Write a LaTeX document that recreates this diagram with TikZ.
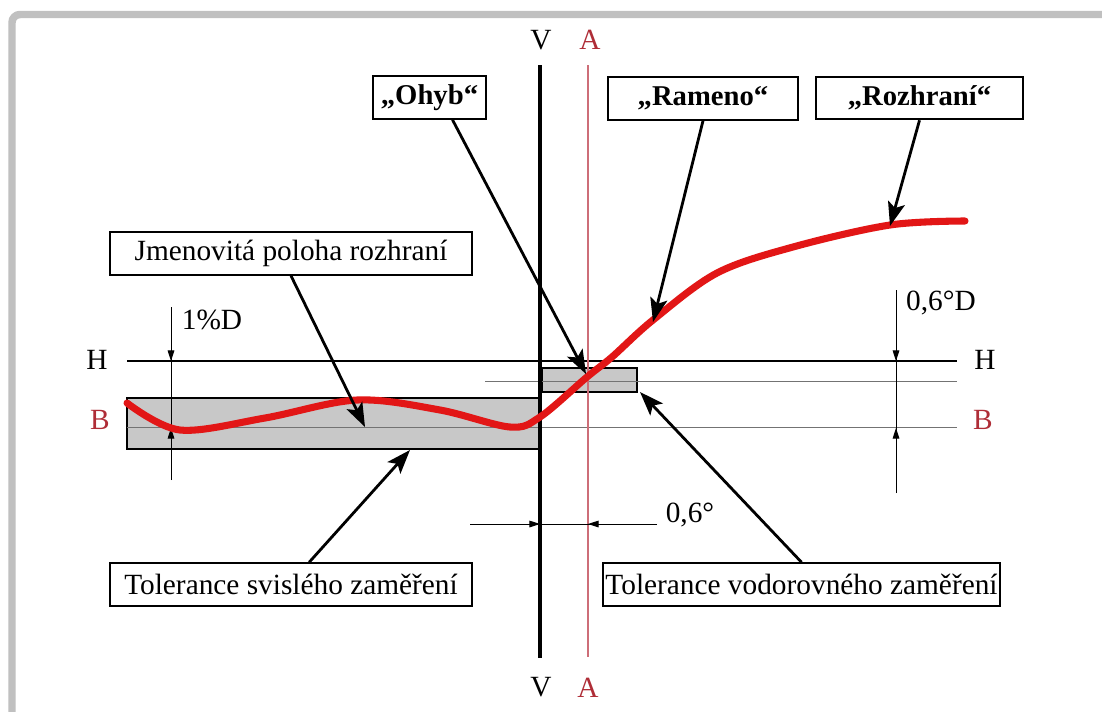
\documentclass[tikz,border=0pt]{standalone}
\usepackage{fontspec}
\setmainfont{Liberation Serif}
\usetikzlibrary{arrows.meta,calc}
\definecolor{curvered}{RGB}{226,22,22}
\definecolor{labred}{RGB}{175,45,55}
\definecolor{thinred}{RGB}{205,110,120}
\definecolor{framegray}{RGB}{192,192,192}
\definecolor{tolgray}{RGB}{200,200,200}
\begin{document}
\begin{tikzpicture}[x=0.75pt,y=-0.75pt,
  lbl/.style={font=\fontsize{22}{25}\selectfont, inner sep=0pt},
  redlbl/.style={lbl, text=labred},
  box/.style={draw, line width=1.4pt, inner sep=0pt, minimum height=32pt, font=\fontsize{22}{25}\selectfont},
  boldbox/.style={box, font=\fontsize{21.5}{24}\selectfont\bfseries},
  callout/.style={line width=2.1pt, -{Stealth[length=18pt,width=13pt,inset=4pt]}},
  dimline/.style={line width=0.7pt},
  dimarrow/.style={line width=0.7pt, -{Triangle[length=8pt,width=5pt]}},
  thinline/.style={line width=0.6pt, draw=black!55},
  tolrect/.style={draw, line width=1.2pt, fill=tolgray}]
\useasboundingbox (0,0) rectangle (1102,711);
\clip (0,0) rectangle (1102,711);
\fill[white] (0,0) rectangle (1102,711);
% frame
\draw[framegray, line width=5.6pt, rounded corners=6pt] (12,730) -- (12,14.5) -- (1120,14.5);

% tolerance rectangles
\path[tolrect] (127,398) rectangle (540,449);
\path[tolrect] (542,368) rectangle (637,392);

% thin horizontal lines
\draw[thinline] (127,427) -- (957,427);
\draw[thinline] (485,381) -- (957,381);

% H line
\draw[line width=1.9pt] (127,361) -- (957,361);

% A line (thin red)
\draw[thinred, line width=0.8pt] (588,65) -- (588,657);
% V line
\draw[line width=2.3pt] (540,65) -- (540,658);

% labels V, A, H, B
\node[lbl] (vtop) at (541,40) {V};
\node[redlbl] (atop) at (590,40) {A};
\node[lbl] (vbot) at (541,687) {V};
\node[redlbl] (abot) at (588,688) {A};
\node[lbl] (hleft) at (97,360) {H};
\node[lbl] (hright) at (985,360) {H};
\node[redlbl] (bleft) at (100,420) {B};
\node[redlbl] (bright) at (983,420) {B};

% dimension 1%D
\coordinate (d1top) at (171,307);
\coordinate (d1h) at (171,361);
\coordinate (d1b) at (171,428);
\coordinate (d1bot) at (171,480);
\draw[dimline] (d1top) -- (d1bot);
\draw[dimarrow] (d1top) -- (d1h);
\draw[dimarrow] (d1bot) -- (d1b);
\node[lbl] (onepd) at (212,320) {1\%D};

% dimension 0,6°D
\coordinate (d2top) at (896,290);
\coordinate (d2h) at (896,361);
\coordinate (d2b) at (896,428);
\coordinate (d2bot) at (896,493);
\draw[dimline] (d2top) -- (d2bot);
\draw[dimarrow] (d2top) -- (d2h);
\draw[dimarrow] (d2bot) -- (d2b);
\node[lbl] (sixd) at (941,303) {0,6°D};

% horizontal dimension 0,6°
\coordinate (d3l) at (470,524);
\coordinate (d3v) at (540,524);
\coordinate (d3a) at (588,524);
\coordinate (d3r) at (657,524);
\draw[dimline] (d3l) -- (d3r);
\draw[dimarrow] (d3l) -- (d3v);
\draw[dimarrow] (d3r) -- (d3a);
\node[lbl] (sixdeg) at (690,515) {0,6°};

% red curve
\draw[curvered, line width=5.3pt, line cap=round] plot[smooth, tension=0.55] coordinates {
 (127,403) (180,430) (265,418) (357,400) (440,410) (510,427) (540,417)
 (587,377) (612,357) (653,320) (717,273) (793,247) (890,225) (965,221)};

% callout boxes
\node[boldbox, minimum width=84.75pt] (ohyb) at (429.5,97.5) {„Ohyb“};
\node[boldbox, minimum width=142.5pt] (rameno) at (703,98.5) {„Rameno“};
\node[boldbox, minimum width=155.25pt] (rozhrani) at (919.5,98) {„Rozhraní“};
\node[box, minimum width=271.5pt] (jmen) at (291,253.5) {Jmenovitá poloha rozhraní};
\node[box, minimum width=271.5pt] (tols) at (291,584.5) {Tolerance svislého zaměření};
\node[box, minimum width=297.75pt] (tolv) at (801.5,584.5) {Tolerance vodorovného zaměření};

% callout tips
\coordinate (tipohyb) at (586,374);
\coordinate (tiprameno) at (653,322);
\coordinate (tiproz) at (890,226);
\coordinate (tipjmen) at (365,427);
\coordinate (tiptols) at (410,450);
\coordinate (tiptolv) at (640,392);

\draw[callout] ($(ohyb.south west)!0.7!(ohyb.south east)$) -- (tipohyb);
\draw[callout] (rameno.south) -- (tiprameno);
\draw[callout] (rozhrani.south) -- (tiproz);
\draw[callout] (jmen.south) -- (tipjmen);
\draw[callout] ($(tols.north west)!0.55!(tols.north east)$) -- (tiptols);
\draw[callout] (tolv.north) -- (tiptolv);
\end{tikzpicture}
\end{document}
